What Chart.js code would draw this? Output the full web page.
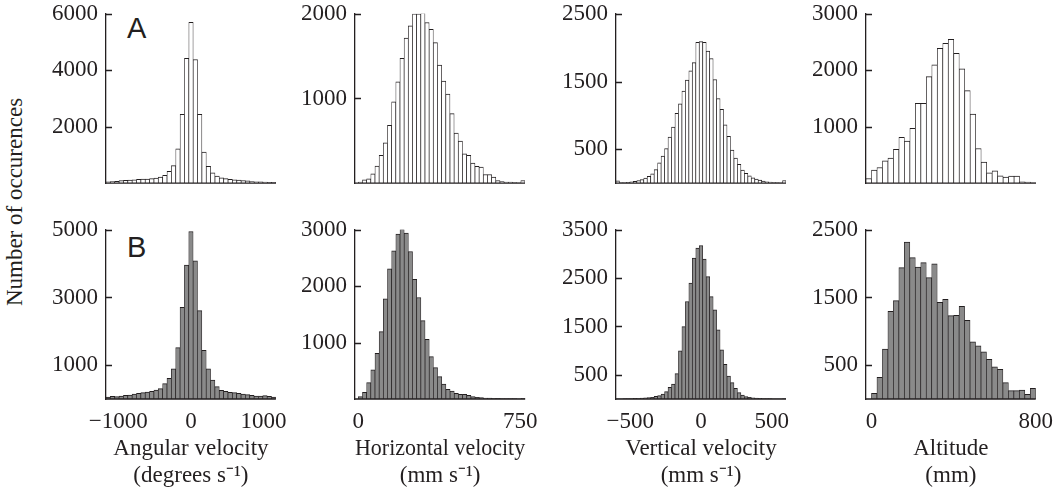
<!DOCTYPE html>
<html>
<head>
<meta charset="utf-8">
<title>Number of occurences</title>
<script src="https://cdn.jsdelivr.net/npm/chart.js@4.4.1/dist/chart.umd.min.js"></script>
<style>
  html, body { margin: 0; padding: 0; background: #fff; }
  body { position: relative; width: 1058px; height: 490px; overflow: hidden; }
  .box { position: absolute; }
  .box canvas { display: block; }
  .tag { position: absolute; font-family: "Liberation Sans", Arial, sans-serif; font-size: 29px; line-height: 29px; color: #231f20; }
  .ytitle {
    position: absolute; left: -135px; top: 189px; width: 300px; height: 26px;
    font-family: "Liberation Serif", "Times New Roman", serif; font-size: 23px; line-height: 26px;
    text-align: center; color: #231f20; transform: rotate(-90deg); transform-origin: 50% 50%;
    white-space: nowrap;
  }
</style>
</head>
<body>
<div class="ytitle">Number of occurences</div>
<div class="tag" style="left:127px; top:14px;">A</div>
<div class="tag" style="left:127px; top:233px;">B</div>

<div class="box" id="box-a1"><canvas id="a1"></canvas></div>
<div class="box" id="box-a2"><canvas id="a2"></canvas></div>
<div class="box" id="box-a3"><canvas id="a3"></canvas></div>
<div class="box" id="box-a4"><canvas id="a4"></canvas></div>
<div class="box" id="box-b1"><canvas id="b1"></canvas></div>
<div class="box" id="box-b2"><canvas id="b2"></canvas></div>
<div class="box" id="box-b3"><canvas id="b3"></canvas></div>
<div class="box" id="box-b4"><canvas id="b4"></canvas></div>

<script>
// ---- Bin layout of each variable (start of first bin, bin width) ----
const angularStart = -1170, angularWidth = 60;          // degrees s-1
const horizontalStart = 0, horizontalWidth = 19.33;     // mm s-1
const verticalStart = -600, verticalWidth = 1200 / 49;  // mm s-1
const altitudeStart = -26.67, altitudeWidth = 26.67;    // mm

// ---- Axis limits ----
const angularRange = [-1170, 1170];
const horizontalRange = [-15.3, 773.3];
const verticalRange = [-600, 600];
const altitudeRange = [-26.67, 800];

// ---- Row A counts (open bars) ----
const angularA = [50, 60, 70, 90, 100, 110, 120, 140, 150, 150, 160, 180, 220, 280, 420, 620,
  1220, 2440, 4420, 5700, 4380, 2440, 1100, 600, 370, 250, 190, 160, 140, 120, 110, 95, 80,
  60, 50, 45, 40, 35, 30];
const horizontalA = [12, 40, 51, 111, 202, 328, 478, 684, 961, 1198, 1474, 1712, 1858, 2000,
  2000, 2016, 1897, 1818, 1660, 1395, 1206, 1051, 822, 593, 498, 348, 328, 237, 198, 190, 103,
  103, 71, 32, 20, 12, 12, 8, 4, 32];
const verticalA = [35, 8, 10, 14, 20, 28, 40, 55, 75, 100, 140, 200, 300, 400, 510, 680, 830,
  1030, 1170, 1360, 1520, 1660, 1780, 2080, 2090, 2080, 1950, 1840, 1530, 1250, 1090, 860,
  690, 490, 370, 280, 195, 145, 110, 80, 60, 45, 30, 20, 15, 10, 8, 6, 40];
const altitudeA = [83, 231, 278, 396, 444, 598, 811, 746, 970, 1414, 1414, 1888, 2095, 2390,
  2479, 2550, 2302, 2024, 1639, 1225, 615, 373, 183, 219, 130, 107, 124, 124, 24, 18, 6];

// ---- Row B counts (grey bars) ----
const angularB = [59, 79, 69, 89, 108, 118, 148, 168, 187, 207, 227, 266, 306, 454, 611, 888,
  1519, 2712, 3955, 4951, 4083, 2613, 1440, 888, 562, 365, 256, 227, 197, 187, 168, 148, 128,
  108, 89, 89, 99, 79, 59];
const horizontalB = [41, 118, 290, 515, 811, 1195, 1775, 2308, 2627, 2923, 3012, 2941, 2615,
  2124, 1799, 1390, 1059, 751, 556, 396, 266, 172, 142, 101, 83, 83, 65, 41, 30, 24, 18, 15,
  12, 10, 8, 8, 6, 6, 5, 12];
const verticalB = [5, 6, 7, 8, 10, 12, 15, 18, 22, 28, 35, 55, 69, 104, 152, 242, 311, 525,
  994, 1498, 2016, 2400, 2913, 3120, 3175, 2892, 2533, 2119, 1843, 1429, 1015, 718, 476, 338,
  221, 131, 83, 48, 35, 25, 18, 14, 10, 8, 7, 6, 5, 5, 8];
const altitudeB = [0, 84, 319, 737, 1297, 1454, 1940, 2318, 2088, 1950, 2014, 1793, 1999,
  1429, 1474, 1233, 1238, 1370, 1164, 845, 786, 698, 585, 476, 437, 241, 123, 123, 133, 69, 157];

// ---- Tick labels ----
const yTicksA = { angular: [2000, 4000, 6000], horizontal: [1000, 2000], vertical: [500, 1500, 2500], altitude: [1000, 2000, 3000] };
const yTicksB = { angular: [1000, 3000, 5000], horizontal: [1000, 2000, 3000], vertical: [500, 1500, 2500, 3500], altitude: [500, 1500, 2500] };
const xTicks = { angular: [-1000, 0, 1000], horizontal: [0, 750], vertical: [-500, 0, 500], altitude: [0, 800] };

// ---- Axis titles ----
const xTitles = {
  angular: ['Angular velocity', '(degrees s\u207B\u00B9)'],
  horizontal: ['Horizontal velocity', '(mm s\u207B\u00B9)'],
  vertical: ['Vertical velocity', '(mm s\u207B\u00B9)'],
  altitude: ['Altitude', '(mm)']
};

// ---------------------------------------------------------------------------
const INK = '#231f20';
const GREY = '#8a8a8a';
const SERIF = '"Liberation Serif", "Times New Roman", serif';

function binCenters(start, width, count) {
  const c = [];
  for (let i = 0; i < count; i++) c.push(start + width * (i + 0.5));
  return c;
}

function formatTick(v) {
  return v < 0 ? '\u2212' + (-v) : String(v);
}

// inward y ticks and the common baseline of each histogram
const axisMarks = {
  id: 'axisMarks',
  afterDatasetsDraw(chart) {
    const { ctx, chartArea: a, scales: { y } } = chart;
    ctx.save();
    ctx.strokeStyle = INK;
    ctx.lineWidth = 1.3;
    ctx.beginPath();
    ctx.moveTo(a.left, a.bottom);
    ctx.lineTo(a.right, a.bottom);
    y.ticks.forEach(t => {
      const py = Math.round(y.getPixelForValue(t.value)) + 0.5;
      ctx.moveTo(a.left, py);
      ctx.lineTo(a.left + 6, py);
    });
    ctx.stroke();
    ctx.restore();
  }
};

// plot-area size of every panel and the room kept around it
const PLOT_W = 170, PLOT_H = 169, Y_AXIS_W = 75, PAD_TOP = 16, PAD_RIGHT = 20, X_AXIS_H = 91;

function histogram(id, opts) {
  const el = document.getElementById(id);
  const box = document.getElementById('box-' + id);
  const bottomRow = opts.bottomRow;
  const w = Y_AXIS_W + PLOT_W + PAD_RIGHT;
  const h = bottomRow ? PAD_TOP + PLOT_H + X_AXIS_H : PAD_TOP + PLOT_H + 4;
  box.style.width = w + 'px'; box.style.height = h + 'px';
  el.width = w; el.height = h;

  const centers = binCenters(opts.start, opts.width, opts.values.length);
  const points = centers.map((c, i) => ({ x: c, y: opts.values[i] }));

  const xScale = {
    type: 'linear',
    offset: false,
    min: opts.range[0],
    max: opts.range[1],
    display: bottomRow,
    afterBuildTicks: s => { s.ticks = opts.xTicks.map(v => ({ value: v })); },
    grid: { display: false, drawTicks: false },
    border: { display: false },
    ticks: {
      autoSkip: false, maxRotation: 0, padding: 9,
      color: INK, font: { family: SERIF, size: 23 },
      callback: v => formatTick(v)
    },
    title: {
      display: true, text: opts.title, color: INK,
      font: { family: SERIF, size: 23, lineHeight: 1.2 },
      padding: { top: 0, bottom: 0 }
    }
  };
  if (bottomRow) xScale.afterFit = s => { s.height = X_AXIS_H; };

  const chart = new Chart(el, {
    type: 'bar',
    data: {
      datasets: [{
        data: points,
        backgroundColor: opts.fill,
        borderColor: INK,
        borderWidth: { top: 1, left: 0.7, right: 0.7, bottom: 0 },
        borderSkipped: false,
        barPercentage: 1,
        categoryPercentage: 1
      }]
    },
    options: {
      responsive: false,
      maintainAspectRatio: false,
      animation: false,
      devicePixelRatio: 1,
      events: [],
      layout: { autoPadding: false, padding: { top: PAD_TOP, right: PAD_RIGHT, bottom: bottomRow ? 0 : 4, left: 0 } },
      plugins: { legend: { display: false }, tooltip: { enabled: false }, title: { display: false } },
      scales: {
        x: xScale,
        y: {
          type: 'linear',
          min: 0,
          max: opts.yTicks[opts.yTicks.length - 1],
          afterBuildTicks: s => { s.ticks = opts.yTicks.map(v => ({ value: v })); },
          afterFit: s => { s.width = Y_AXIS_W; },
          grid: { display: false, drawTicks: false },
          border: { display: true, color: INK, width: 1.3 },
          ticks: {
            autoSkip: false, padding: 8,
            color: INK, font: { family: SERIF, size: 23 },
            callback: v => formatTick(v)
          }
        }
      }
    },
    plugins: [axisMarks]
  });

  // grow the canvas until the plot area has the wanted size, then place it
  let cw = w, ch = h;
  for (let k = 0; k < 4; k++) {
    const a = chart.chartArea;
    const dw = PLOT_W - (a.right - a.left);
    const dh = PLOT_H - (a.bottom - a.top);
    if (Math.abs(dw) < 0.5 && Math.abs(dh) < 0.5) break;
    cw = Math.round(cw + dw); ch = Math.round(ch + dh);
    box.style.width = cw + 'px'; box.style.height = ch + 'px';
    chart.resize(cw, ch);
  }
  const a = chart.chartArea;
  box.style.left = (opts.axisX - a.left) + 'px';
  box.style.top = (opts.topY - a.top) + 'px';
  return chart;
}

const columns = [
  { key: 'angular', axisX: 106, start: angularStart, width: angularWidth, range: angularRange, a: angularA, b: angularB },
  { key: 'horizontal', axisX: 355, start: horizontalStart, width: horizontalWidth, range: horizontalRange, a: horizontalA, b: horizontalB },
  { key: 'vertical', axisX: 616, start: verticalStart, width: verticalWidth, range: verticalRange, a: verticalA, b: verticalB },
  { key: 'altitude', axisX: 866, start: altitudeStart, width: altitudeWidth, range: altitudeRange, a: altitudeA, b: altitudeB }
];

columns.forEach((col, i) => {
  histogram('a' + (i + 1), {
    bottomRow: false, axisX: col.axisX, topY: 14, start: col.start, width: col.width,
    range: col.range, values: col.a, yTicks: yTicksA[col.key], xTicks: xTicks[col.key],
    title: xTitles[col.key], fill: '#ffffff'
  });
  histogram('b' + (i + 1), {
    bottomRow: true, axisX: col.axisX, topY: 230, start: col.start, width: col.width,
    range: col.range, values: col.b, yTicks: yTicksB[col.key], xTicks: xTicks[col.key],
    title: xTitles[col.key], fill: GREY
  });
});
</script>
</body>
</html>
